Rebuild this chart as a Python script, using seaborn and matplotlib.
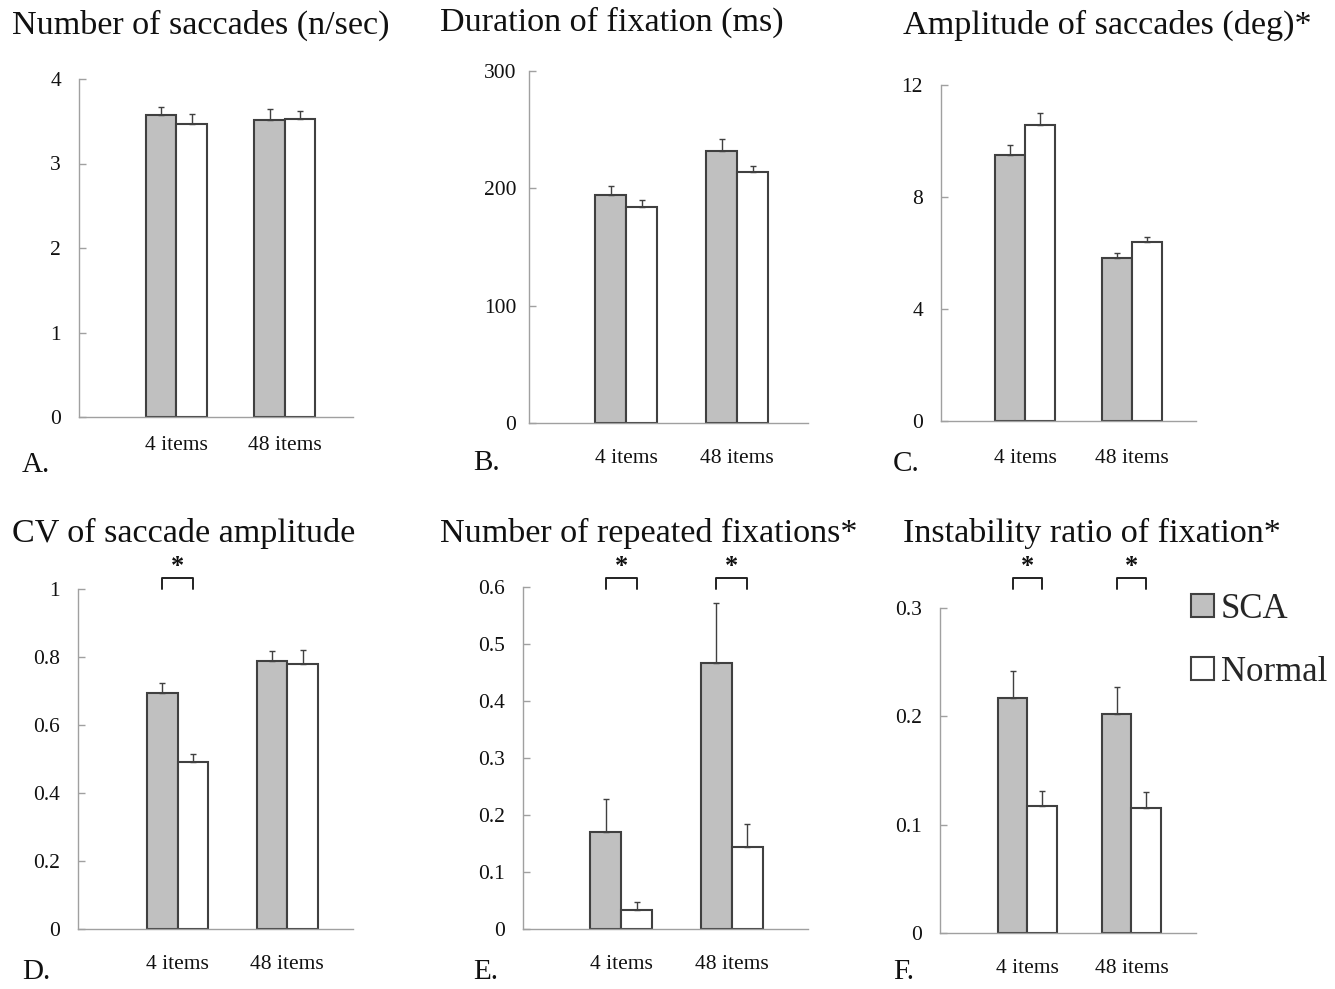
import numpy as np
import pandas as pd
import matplotlib
matplotlib.use("Agg")
import matplotlib.pyplot as plt
import matplotlib.transforms as mtransforms
from matplotlib.patches import Patch
import seaborn as sb

conditions = ["4 items", "48 items"]
groups = ["SCA", "Normal"]

# A. number of saccades (n/sec)
nsac_sca = [3.57, 3.51]
nsac_sca_se = [0.10, 0.13]
nsac_nor = [3.47, 3.53]
nsac_nor_se = [0.12, 0.09]
# B. duration of fixation (ms)
dur_sca = [194, 232]
dur_sca_se = [8, 10]
dur_nor = [184, 214]
dur_nor_se = [6, 5]
# C. amplitude of saccades (deg)
amp_sca = [9.50, 5.83]
amp_sca_se = [0.36, 0.18]
amp_nor = [10.57, 6.40]
amp_nor_se = [0.42, 0.18]
# D. CV of saccade amplitude
cv_sca = [0.693, 0.789]
cv_sca_se = [0.031, 0.030]
cv_nor = [0.491, 0.779]
cv_nor_se = [0.023, 0.041]
# E. number of repeated fixations
rep_sca = [0.171, 0.466]
rep_sca_se = [0.057, 0.106]
rep_nor = [0.033, 0.144]
rep_nor_se = [0.015, 0.040]
# F. instability ratio of fixation
ins_sca = [0.217, 0.202]
ins_sca_se = [0.025, 0.025]
ins_nor = [0.1175, 0.115]
ins_nor_se = [0.0135, 0.015]

titles = ["Number of saccades (n/sec)", "Duration of fixation (ms)",
          "Amplitude of saccades (deg)*", "CV of saccade amplitude",
          "Number of repeated fixations*", "Instability ratio of fixation*"]
letters = ["A.", "B.", "C.", "D.", "E.", "F."]
yticks = [[0, 1, 2, 3, 4], [0, 100, 200, 300], [0, 4, 8, 12],
          [0, 0.2, 0.4, 0.6, 0.8, 1], [0, 0.1, 0.2, 0.3, 0.4, 0.5, 0.6],
          [0, 0.1, 0.2, 0.3]]
significant = [[], [], [], ["4 items"], ["4 items", "48 items"], ["4 items", "48 items"]]

panels = [(nsac_sca, nsac_sca_se, nsac_nor, nsac_nor_se),
          (dur_sca, dur_sca_se, dur_nor, dur_nor_se),
          (amp_sca, amp_sca_se, amp_nor, amp_nor_se),
          (cv_sca, cv_sca_se, cv_nor, cv_nor_se),
          (rep_sca, rep_sca_se, rep_nor, rep_nor_se),
          (ins_sca, ins_sca_se, ins_nor, ins_nor_se)]

# layout in pixels: axes box (left, right, top, bottom), xlim, title xy, letter xy
W, H = 1335, 989
boxes = [(79, 353, 79, 417), (529, 808, 71, 423), (941, 1196, 85, 421),
         (78, 353, 589, 929), (523, 808, 587, 929), (940, 1196, 608, 933)]
xlims = [(-0.9, 1.63), (-0.88, 1.64), (-0.79, 1.6),
         (-0.91, 1.6), (-0.89, 1.69), (-0.84, 1.62)]
title_xy = [(12, 25), (440, 22), (903, 25), (12, 533), (440, 533), (903, 533)]
letter_xy = [(22, 465), (473, 463), (893, 464), (22, 972), (473, 972), (893, 972)]
xpads = [14, 19, 20, 19, 19, 19]

sb.set_style("white")
plt.rcParams["font.family"] = ["Liberation Serif", "DejaVu Serif"]

gray = "#c0c0c0"
edge = "#404040"
axcol = "#a0a0a0"

fig = plt.figure(figsize=(W / 100, H / 100), dpi=100)

for i, (sca, sca_se, nor, nor_se) in enumerate(panels):
    l, r, t, b = boxes[i]
    ax = fig.add_axes([l / W, 1 - b / H, (r - l) / W, (b - t) / H])
    df = pd.DataFrame({"cond": conditions * 2,
                       "group": [groups[0]] * 2 + [groups[1]] * 2,
                       "value": list(sca) + list(nor)})
    sb.barplot(data=df, x="cond", y="value", hue="group", order=conditions,
               hue_order=groups, palette={"SCA": gray, "Normal": "white"},
               saturation=1, width=0.56, edgecolor=edge, linewidth=1.5,
               errorbar=None, legend=False, ax=ax)
    # upward-only error bars
    bars = sorted(ax.patches, key=lambda p: p.get_x())
    errs = [sca_se[0], nor_se[0], sca_se[1], nor_se[1]]
    xs = [p.get_x() + p.get_width() / 2 for p in bars]
    hs = [p.get_height() for p in bars]
    ax.errorbar(xs, hs, yerr=[np.zeros(4), errs], fmt="none", ecolor=edge,
                elinewidth=1.0, capsize=2, capthick=1.0)

    ax.set_xlim(*xlims[i])
    ax.set_ylim(yticks[i][0], yticks[i][-1])
    ax.set_yticks(yticks[i])
    ax.set_yticklabels(["{:g}".format(v) for v in yticks[i]])
    ax.set_xlabel("")
    ax.set_ylabel("")
    for s in ["top", "right"]:
        ax.spines[s].set_visible(False)
    for s in ["left", "bottom"]:
        ax.spines[s].set_color(axcol)
        ax.spines[s].set_linewidth(1.0)
    ax.tick_params(axis="y", direction="in", length=5, width=1, color=axcol,
                   labelsize=15.5, labelcolor="#111111", pad=13 if i != 1 else 9, left=True)
    ax.tick_params(axis="x", length=0, labelsize=15.5, labelcolor="#111111", pad=xpads[i])

    # significance brackets
    trans = mtransforms.blended_transform_factory(ax.transData, fig.transFigure)
    for cond in significant[i]:
        c = conditions.index(cond)
        x1, x2 = c - 0.14, c + 0.14
        ytop, ybot = 1 - 578 / H, 1 - 589 / H
        ax.plot([x1, x1, x2, x2], [ybot, ytop, ytop, ybot], color="#222222",
                lw=1.4, transform=trans, clip_on=False)
        ax.text(c, 1 - 567 / H, "*", transform=trans, ha="center", va="center",
                fontsize=19, fontweight="bold", color="#111111")

    fig.text(title_xy[i][0] / W, 1 - title_xy[i][1] / H, titles[i], fontsize=24.6,
             ha="left", va="center", color="#111111")
    fig.text(letter_xy[i][0] / W, 1 - letter_xy[i][1] / H, letters[i], fontsize=21,
             ha="left", va="center", color="#111111")

handles = [Patch(facecolor=gray, edgecolor=edge, linewidth=1.5, label="SCA"),
           Patch(facecolor="white", edgecolor=edge, linewidth=1.5, label="Normal")]
fig.legend(handles=handles, loc="upper left", bbox_to_anchor=(1191 / W, 1 - 593 / H),
           frameon=False, fontsize=25, handlelength=0.65, handleheight=0.65,
           handletextpad=0.2, labelspacing=0.85, borderpad=0, borderaxespad=0)

fig.savefig("out.png", dpi=100)
